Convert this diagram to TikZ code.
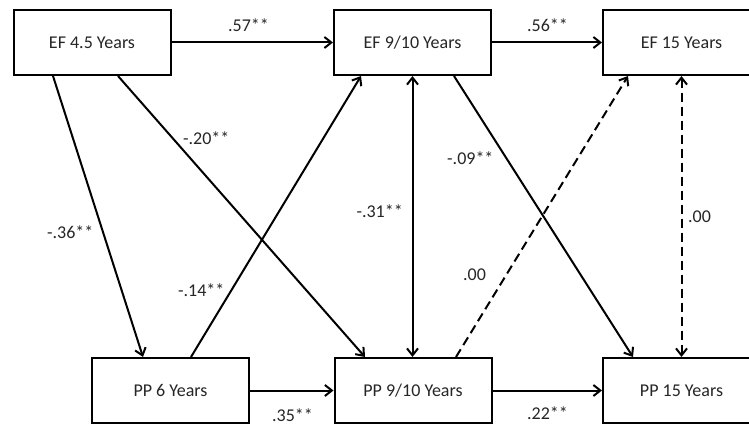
\documentclass[tikz,border=0pt]{standalone}
\usepackage{fontspec}
\setmainfont{Carlito}
\usetikzlibrary{arrows.meta}
\definecolor{txt}{HTML}{262626}
\begin{document}
\begin{tikzpicture}[x=1pt,y=-1pt,
  >={Straight Barb[length=7pt,width=11pt]},
  box/.style={draw, line width=2pt, minimum width=157pt, minimum height=65pt, inner sep=0pt, font=\fontsize{18}{20}\selectfont, text=txt},
  lbl/.style={inner sep=0pt, font=\fontsize{18}{20}\selectfont, text=txt},
  conn/.style={line width=2pt, ->},
  bconn/.style={line width=2pt, <->},
  dashline/.style={dash pattern=on 9pt off 5pt}
]
\clip (0,0) rectangle (749,427);
\fill[white] (0,0) rectangle (749,427);
% boxes
\node[box] (ef45)  at (92,42.5)    {EF 4.5 Years};
\node[box] (ef910) at (412.5,42.5) {EF 9/10 Years};
\node[box] (ef15)  at (681.5,42.5) {EF 15 Years};
\node[box] (pp6)   at (170.5,390.5){PP 6 Years};
\node[box] (pp910) at (413,390.5)  {PP 9/10 Years};
\node[box] (pp15)  at (681.5,390.5){PP 15 Years};
% horizontal paths
\draw[conn] (ef45.east) -- (ef910.west);
\draw[conn] (ef910.east) -- (ef15.west);
\draw[conn] (pp6.east) -- (pp910.west);
\draw[conn] (pp910.east) -- (pp15.west);
% diagonal paths
\draw[conn] ([xshift=-39pt]ef45.south) -- ([xshift=-27.5pt]pp6.north);
\draw[conn] ([xshift=26pt]ef45.south) -- ([xshift=-48pt]pp910.north);
\draw[conn] ([xshift=20.5pt]pp6.north) -- ([xshift=-51.5pt]ef910.south);
\draw[conn] ([xshift=41.5pt]ef910.south) -- ([xshift=-48.5pt]pp15.north);
\draw[conn,dashline] ([xshift=43pt]pp910.north) -- ([xshift=-53.5pt]ef15.south);
% vertical correlations
\draw[bconn] (ef910.south) -- (pp910.north -| ef910.south);
\draw[bconn,dashline] (ef15.south) -- (pp15.north);
% labels
\node[lbl,anchor=base west] (l57) at (228,32)  {.57**};
\node[lbl,anchor=base west] (l56) at (527,32)  {.56**};
\node[lbl,anchor=base west] (l35) at (272,421) {.35**};
\node[lbl,anchor=base west] (l22) at (527,419) {.22**};
\node[lbl,anchor=base west] (l36) at (47,239)  {-.36**};
\node[lbl,anchor=base west] (l20) at (183,145) {-.20**};
\node[lbl,anchor=base west] (l14) at (178,297) {-.14**};
\node[lbl,anchor=base west] (l09) at (447,165) {-.09**};
\node[lbl,anchor=base east] (l31) at (403,218) {-.31**};
\node[lbl,anchor=base west] (l00a) at (463,281) {.00};
\node[lbl,anchor=base west] (l00b) at (688,223) {.00};
\end{tikzpicture}
\end{document}
